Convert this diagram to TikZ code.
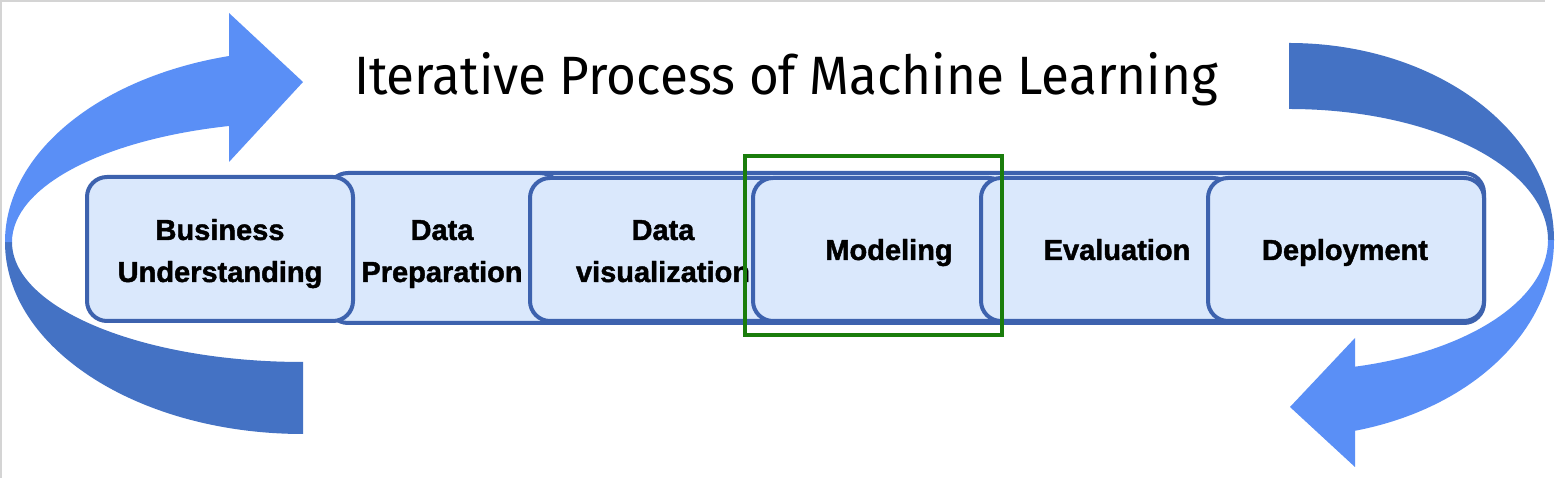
\documentclass[tikz,border=0pt]{standalone}
\usepackage{fontspec}
\setmainfont{Liberation Sans}
\newfontfamily\titlefont{Fira Sans}
\newfontfamily\lblfont{Liberation Sans Bold}[FakeBold=1.5]
\definecolor{boxblue}{HTML}{3D62AE}
\definecolor{boxfill}{HTML}{DAE8FC}
\definecolor{lightarrow}{HTML}{5A8FF6}
\definecolor{darkarrow}{HTML}{4472C4}
\definecolor{hlgreen}{HTML}{1A7D0C}
\definecolor{framegray}{HTML}{D4D4D4}
\tikzset{
  stage/.style={draw=boxblue, fill=boxfill, line width=4pt, rounded corners=20pt, inner sep=0pt},
  lbl/.style={font=\lblfont\fontsize{29pt}{35pt}\selectfont, anchor=base, inner sep=0pt},
}
\begin{document}
\begin{tikzpicture}[x=1pt,y=1pt]
\useasboundingbox (0,0) rectangle (1556,478);
\fill[white] (0,0) rectangle (1556,478);
\draw[framegray, line width=2pt] (1,0) -- (1,477) -- (1545,477);

% left circular arrow
\fill[darkarrow] (5,236) arc[start angle=180, end angle=270, x radius=298pt, y radius=192pt]
  -- (303,116) arc[start angle=270, end angle=180, x radius=291pt, y radius=120pt] -- cycle;
\fill[lightarrow] (5,236) arc[start angle=180, end angle=104.38, x radius=298pt, y radius=192pt]
  -- (229,465) -- (303,396) -- (229,316) -- (229,352)
  arc[start angle=104.73, end angle=180, x radius=291pt, y radius=120pt] -- cycle;

% right circular arrow
\fill[darkarrow] (1289,435) arc[start angle=90, end angle=0, x radius=265pt, y radius=197pt]
  -- (1548,238) arc[start angle=0, end angle=90, x radius=259pt, y radius=131pt] -- cycle;
\fill[lightarrow] (1554,238) arc[start angle=0, end angle=-75.58, x radius=265pt, y radius=197pt]
  -- (1355,11) -- (1290,71) -- (1355,140) -- (1355,111.3)
  arc[start angle=-75.24, end angle=0, x radius=259pt, y radius=131pt] -- cycle;

% title
\node[font=\titlefont\fontsize{54pt}{60pt}\selectfont, anchor=base, inner sep=0pt, xscale=0.948] (title) at (786,383) {Iterative Process of Machine Learning};

% stages
\node[stage, minimum width=964pt, minimum height=150pt] (strip) at (1002,230) {};
\node[stage, minimum width=232pt, minimum height=150pt] (prep) at (444,230) {};
\node[stage, minimum width=266pt, minimum height=144pt] (bus) at (220,229) {};
\node[stage, minimum width=260pt, minimum height=143pt] (vis) at (660,228.5) {};
\node[stage, minimum width=256pt, minimum height=143pt] (model) at (881,228.5) {};
\node[stage, minimum width=252pt, minimum height=143pt] (eval) at (1107,228.5) {};
\node[stage, minimum width=276pt, minimum height=143pt] (deploy) at (1346,228.5) {};

% labels
\node[lbl] (busA) at (220,238) {Business};
\node[lbl] (busB) at (220,196) {Understanding};
\node[lbl] (prepA) at (442,238) {Data};
\node[lbl] (prepB) at (442,196) {Preparation};
\node[lbl] (visA) at (663,238) {Data};
\node[lbl] (visB) at (663,196) {visualization};
\node[lbl] (modelT) at (889,218) {Modeling};
\node[lbl] (evalT) at (1117,218) {Evaluation};
\node[lbl] (deployT) at (1345,218) {Deployment};

% highlight
\node[draw=hlgreen, line width=3.5pt, minimum width=257pt, minimum height=179pt, inner sep=0pt] (focus) at (873.5,232.5) {};
\end{tikzpicture}
\end{document}
